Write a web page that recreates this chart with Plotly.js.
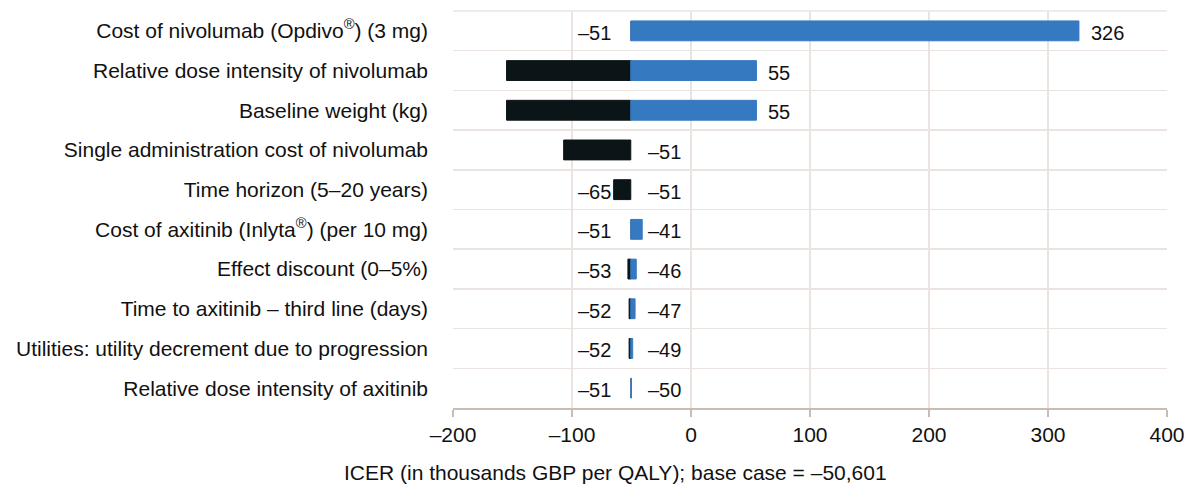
<!DOCTYPE html>
<html>
<head>
<meta charset="utf-8">
<script src="https://cdn.plot.ly/plotly-3.0.1.min.js"></script>
<style>html,body{margin:0;padding:0;background:#fff;}#chart{width:1192px;height:489px;}</style>
</head>
<body>
<div id="chart"></div>
<script>
// ---- data ----
const parameters = [
  "Cost of nivolumab (Opdivo<sup>®</sup>) (3 mg)",
  "Relative dose intensity of nivolumab",
  "Baseline weight (kg)",
  "Single administration cost of nivolumab",
  "Time horizon (5–20 years)",
  "Cost of axitinib (Inlyta<sup>®</sup>) (per 10 mg)",
  "Effect discount (0–5%)",
  "Time to axitinib – third line (days)",
  "Utilities: utility decrement due to progression",
  "Relative dose intensity of axitinib"
];
const baseCase = -50.601; // thousands GBP per QALY
const lowValues  = [-51, -155, -155, -107, -65, -51, -53, -52, -52, -51];
const highValues = [326, 55, 55, -51, -51, -41, -46, -47, -49, -50];
const showLowLabel = [true, false, false, false, true, true, true, true, true, true];
const xTickVals = [-200, -100, 0, 100, 200, 300, 400];
const xTickText = ["–200", "–100", "0", "100", "200", "300", "400"];
const axisTitle = "ICER (in thousands GBP per QALY); base case = –50,601";

// ---- build ----
const fmt = v => (v < 0 ? "–" + Math.abs(v) : String(v));
const blue = "#3579c0", black = "#0b1417", grid = "#ebe3e0";
const lowLen = lowValues.map(v => Math.max(0, baseCase - v));
const highLen = highValues.map(v => Math.max(0, v - baseCase));

const lowTrace = {
  type: "bar", orientation: "h", y: parameters,
  base: lowValues.map(v => Math.min(v, baseCase)),
  x: lowLen,
  width: 0.5,
  marker: {color: black, line: {color: black, width: lowLen.map(l => l > 0.5 ? 1 : 0)}},
  hoverinfo: "skip", showlegend: false
};
const highTrace = {
  type: "bar", orientation: "h", y: parameters,
  base: highValues.map(v => baseCase),
  x: highLen,
  width: 0.5,
  marker: {color: blue, line: {color: blue, width: highLen.map(l => l > 0.5 ? 1 : 0)}},
  hoverinfo: "skip", showlegend: false
};

const labelFont = {family: "Liberation Sans, Arial, sans-serif", size: 20, color: "#111"};
const annotations = [];
parameters.forEach((p, i) => {
  if (showLowLabel[i]) {
    annotations.push({x: baseCase, y: p, xref: "x", yref: "y", text: fmt(lowValues[i]),
      showarrow: false, xanchor: "right", yanchor: "middle", xshift: -18, yshift: -2, font: labelFont});
  }
  const far = highValues[i] - baseCase > 20;
  annotations.push({x: far ? highValues[i] : baseCase, y: p, xref: "x", yref: "y", text: fmt(highValues[i]),
    showarrow: false, xanchor: "left", yanchor: "middle", xshift: far ? 10 : 15, yshift: -2, font: labelFont});
});
annotations.push({x: 0.227, y: -0.163, xref: "paper", yref: "paper", text: axisTitle, showarrow: false,
  xanchor: "center", yanchor: "middle", font: {family: "Liberation Sans, Arial, sans-serif", size: 21, color: "#111"}});

const layout = {
  width: 1192, height: 489,
  margin: {l: 453, r: 25, t: 11, b: 81},
  paper_bgcolor: "#fff", plot_bgcolor: "#fff",
  barmode: "overlay",
  font: {family: "Liberation Sans, Arial, sans-serif", color: "#111"},
  xaxis: {
    range: [-200, 400], tickmode: "array", tickvals: xTickVals, ticktext: xTickText,
    showgrid: true, gridcolor: grid, gridwidth: 1.5, zeroline: false,
    showline: true, linecolor: "#c8bcb3", linewidth: 1.5,
    ticks: "outside", ticklen: 7, tickwidth: 1.5, tickcolor: "#c8bcb3",
    tickfont: {size: 21, color: "#111"}, fixedrange: true
  },
  yaxis: {
    type: "category", categoryorder: "array", categoryarray: parameters,
    range: [9.5, -0.5], tickson: "boundaries", ticks: "",
    showgrid: true, gridcolor: grid, gridwidth: 1.5, zeroline: false,
    showline: false, ticklabelstandoff: 24,
    tickfont: {size: 21, color: "#111"}, fixedrange: true
  },
  shapes: [{type: "line", xref: "paper", yref: "paper", x0: 0, x1: 1, y0: 1, y1: 1,
    line: {color: grid, width: 1.5}, layer: "below"}],
  annotations: annotations
};

Plotly.newPlot("chart", [lowTrace, highTrace], layout, {displayModeBar: false, staticPlot: true});
</script>
</body>
</html>
